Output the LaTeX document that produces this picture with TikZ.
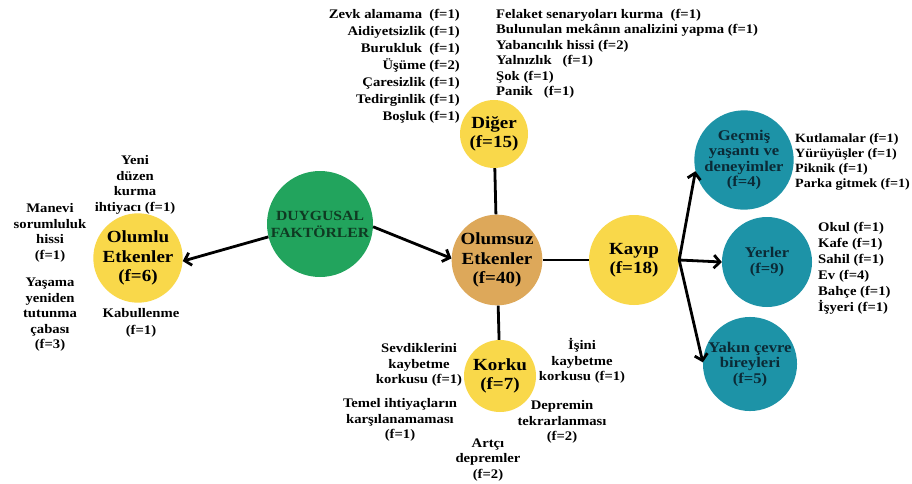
\documentclass[tikz,border=0pt]{standalone}
\usepackage{fontspec}
\setmainfont{Liberation Serif}[FakeStretch=1.12]
\usetikzlibrary{arrows.meta}
\definecolor{cyel}{HTML}{F9D84A}
\definecolor{corg}{HTML}{DDA85A}
\definecolor{cgrn}{HTML}{22A45D}
\definecolor{cteal}{HTML}{1D93A7}
\definecolor{tgrn}{HTML}{0F3A22}
\definecolor{tteal}{HTML}{0B2A36}
\begin{document}
\begin{tikzpicture}[x=1pt,y=-1pt,
  bub/.style={circle,inner sep=0pt,align=center,font=\bfseries\fontsize{17}{19.5}\selectfont},
  tealbub/.style={bub,fill=cteal,text=tteal,font=\bfseries\fontsize{14.8}{15.5}\selectfont},
  lbl/.style={inner sep=0pt,align=center,font=\bfseries\fontsize{13.1}{15.5}\selectfont},
  lblw/.style={lbl,font=\bfseries\fontsize{13.1}{16.5}\selectfont},
  link/.style={line width=2.8pt,black},
  arr/.style={link,-{Straight Barb[length=6pt,width=13pt]}}]
\useasboundingbox (0,0) rectangle (912,484);
\fill[white] (0,0) rectangle (912,484);
% bubbles
\node[bub,fill=cgrn,text=tgrn,minimum size=106pt,font=\bfseries\fontsize{14}{17}\selectfont] (duy) at (320,224) {DUYGUSAL\\FAKTÖRLER};
\node[bub,fill=cyel,minimum size=80pt] (olumlu) at (138,258) {Olumlu\\Etkenler\\(f=6)};
\node[bub,fill=corg,minimum size=90pt] (olumsuz) at (497,260) {Olumsuz\\Etkenler\\(f=40)};
\node[bub,fill=cyel,minimum size=68pt] (diger) at (494,134) {Diğer\\(f=15)};
\node[bub,fill=cyel,minimum size=72pt] (korku) at (500,376) {Korku\\(f=7)};
\node[bub,fill=cyel,minimum size=90pt] (kayip) at (634,260) {Kayıp\\(f=18)};
\node[tealbub,minimum size=92pt] (gecmis) at (744,160) {Geçmiş\\yaşantı ve\\deneyimler\\(f=4)};
\node[tealbub,minimum size=90pt] (yerler) at (767,262) {Yerler\\(f=9)};
\node[tealbub,minimum size=94pt] (yakin) at (750,364) {Yakın çevre\\bireyleri\\(f=5)};
% connectors
\draw[arr] (duy.194) -- (olumlu.-4);
\draw[arr] (duy.-3) -- (olumsuz.178);
\draw[link] (olumsuz) -- (diger);
\draw[link] (olumsuz) -- (korku);
\draw[link] (olumsuz.east) -- (kayip.west);
\draw[arr] (kayip.east) -- (gecmis.193);
\draw[arr] (kayip.east) -- (yerler.west);
\draw[arr] (kayip.east) -- (yakin.178);
% labels
\node[lbl,align=right,anchor=east,font=\bfseries\fontsize{13.1}{17}\selectfont] (topl) at (460,66) {Zevk alamama~~(f=1)\\Aidiyetsizlik (f=1)\\Burukluk~~(f=1)\\Üşüme (f=2)\\Çaresizlik (f=1)\\Tedirginlik (f=1)\\Boşluk (f=1)};
\node[lbl,align=left,anchor=west] (topr) at (496,54) {Felaket senaryoları kurma~~(f=1)\\Bulunulan mekânın analizini yapma (f=1)\\Yabancılık hissi (f=2)\\Yalnızlık~~ (f=1)\\ Şok (f=1)\\ Panik~~ (f=1)};
\node[lbl] (yeni) at (135,185) {Yeni\\düzen\\kurma\\ihtiyacı (f=1)};
\node[lbl] (manevi) at (50,233) {Manevi\\sorumluluk\\hissi\\(f=1)};
\node[lbl] (yasama) at (50,315) {Yaşama\\yeniden\\tutunma\\çabası\\(f=3)};
\node[lblw] (kabul) at (141,323) {Kabullenme\\(f=1)};
\node[lbl] (sevd) at (419,365) {Sevdiklerini\\kaybetme\\korkusu (f=1)};
\node[lbl] (temel) at (400,420) {Temel ihtiyaçların\\karşılanamaması\\(f=1)};
\node[lbl] (artci) at (488,460) {Artçı\\depremler\\(f=2)};
\node[lbl] (deprem) at (562,422) {Depremin\\tekrarlanması\\(f=2)};
\node[lbl] (isini) at (582,361) {İşini\\kaybetme\\korkusu (f=1)};
\node[lbl,align=left,anchor=west,font=\bfseries\fontsize{12.6}{15}\selectfont] (gecl) at (795,162) {Kutlamalar (f=1)\\Yürüyüşler (f=1)\\ Piknik (f=1)\\Parka gitmek (f=1)};
\node[lblw,align=left,anchor=west,font=\bfseries\fontsize{13.1}{16}\selectfont] (yerl) at (818,268) {Okul (f=1)\\Kafe (f=1)\\Sahil (f=1)\\Ev (f=4)\\Bahçe (f=1)\\İşyeri (f=1)};
\end{tikzpicture}
\end{document}
